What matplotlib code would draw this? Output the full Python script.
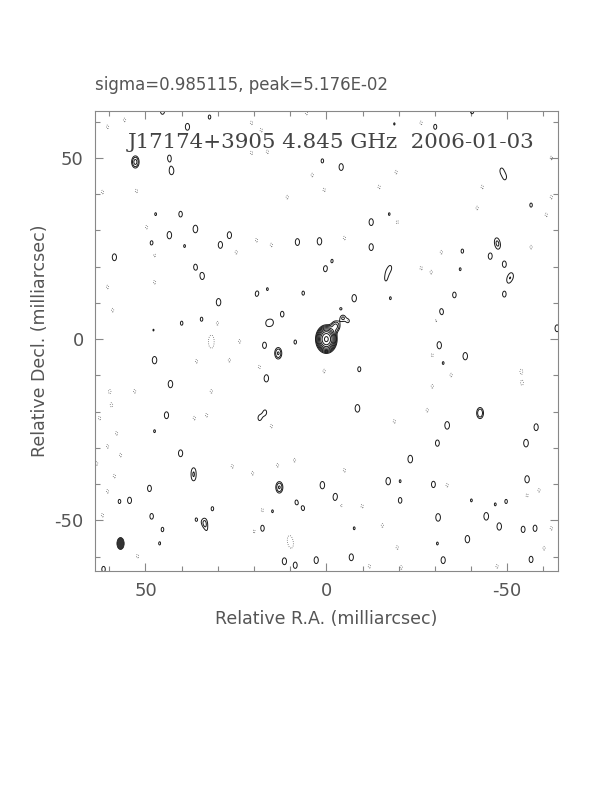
import numpy as np
import matplotlib
matplotlib.use("Agg")
import matplotlib.pyplot as plt
from matplotlib.patches import Ellipse

# map header
source = "J17174+3905"
freq = "4.845 GHz"
obs_date = "2006-01-03"
sigma = 0.985115
peak = 5.176e-02

# core + jet components (mas, in units of lowest contour)
core_x = [0.0, -2.6, -4.6, -4.0, -6.0]
core_y = [0.0, 3.6, 5.8, 8.4, 5.0]
core_amp = [17.5, 2.2, 1.5, 1.2, 1.15]
core_sx = [1.25, 0.9, 0.8, 0.5, 0.5]
core_sy = [1.65, 1.1, 0.9, 0.5, 0.6]

# positive noise blobs
pos_x = [45.3, 32.3, 38.4, 52.8, 43.4, 42.8, 1.1, 40.3, 47.2, 36.2, 43.4, 26.8,
         48.3, 39.2, 29.3, 8.0, 1.9, 58.6, 36.2, 34.3, 0.3, 19.1, 16.3, 6.4,
         29.8, 12.2, 16.4, 15.0, 40.0, 34.5, 47.8,
         -40.3, -30.1, -18.8, -4.1, -48.4, -49.4, -56.6, -12.4, -17.4, -12.4, -47.0,
         -47.6, -45.3, -37.6, -49.2, -37.0, -17.8, -16.8, -51.3, -50.3, -49.2, -35.4,
         -7.7, -17.7, -31.8, -63.8, -1.6, -16.4,
         47.5, 17.1, 13.3, 8.6, 43.1, 16.6, 44.2, 16.9, 18.5, 47.5, 40.3, 36.7,
         36.7, 13.0, 1.1, 48.9, 54.4, 57.2, 48.3, 8.3, 6.4, 14.9, 33.7, 31.5,
         36.0, 17.7, 45.3, 46.1, 11.6, 8.6, 2.8, 61.6, 33.3,
         -31.2, -38.4, -32.3, -9.1, -8.6, -42.5, -33.4, -58.0, -55.2, -30.7, -23.2,
         -17.1, -20.4, -29.6, -55.5, -2.5, -20.4, -40.1, -49.7, -46.7, -44.2,
         -30.9, -47.8, -54.4, -57.7, -7.7, -39.0, -30.7, -6.9, -32.3, -56.6]
pos_y = [63.0, 61.3, 58.6, 48.9, 50.0, 46.4, 49.2, 34.5, 34.5, 30.4, 28.7, 28.7,
         26.5, 25.7, 26.0, 26.8, 27.0, 22.6, 19.9, 17.4, 19.4, 12.4, 13.8, 12.7,
         10.2, 6.9, 4.4, 4.6, 4.4, 5.5, 2.5,
         63.0, 58.6, 59.4, 47.5, 46.6, 44.6, 37.0, 32.3, 34.5, 25.4, 27.2,
         25.6, 22.9, 24.3, 20.7, 19.3, 19.9, 18.4, 17.6, 16.2, 12.4, 12.2,
         11.3, 11.3, 7.5, 3.0, 21.6, 16.2,
         -5.8, -1.7, -3.9, -0.8, -12.4, -10.8, -21.0, -20.2, -21.8, -25.4, -31.5, -36.2,
         -38.4, -40.9, -40.3, -41.2, -44.5, -44.8, -48.9, -45.0, -46.7, -47.5, -50.6, -46.8,
         -49.8, -52.2, -52.5, -56.4, -61.3, -62.4, -61.0, -63.5, -53.0,
         -1.7, -4.7, -6.6, -8.3, -19.1, -20.4, -23.8, -24.3, -28.7, -28.7, -33.1,
         -39.2, -39.2, -40.1, -38.7, -43.6, -44.5, -44.5, -44.8, -45.6, -48.9,
         -49.2, -51.7, -52.5, -52.2, -52.2, -55.2, -56.4, -60.2, -61.0, -60.8]
pos_amp = [1.3, 1.1, 1.3, 2.3, 1.2, 1.35, 1.1, 1.2, 1.05, 1.38, 1.35, 1.3,
           1.15, 1.05, 1.3, 1.3, 1.35, 1.3, 1.2, 1.3, 1.2, 1.3, 1.05, 1.1,
           1.35, 1.2, 1.0, 1.0, 1.1, 1.1, 1.02,
           1.2, 1.15, 1.03, 1.3, 1.05, 1.05, 1.1, 1.3, 1.05, 1.3, 1.0,
           1.0, 1.25, 1.1, 1.25, 1.05, 0.9, 0.85, 1.0, 1.0, 1.2, 1.2,
           1.35, 1.05, 1.3, 1.3, 1.05, 0.85,
           1.35, 1.25, 2.1, 1.1, 1.35, 1.35, 1.3, 1.1, 1.1, 1.05, 1.3, 1.05,
           1.05, 2.1, 1.35, 1.25, 1.25, 1.1, 1.2, 1.1, 1.1, 1.05, 1.45, 1.1,
           1.05, 1.25, 1.1, 1.05, 1.3, 1.25, 1.3, 1.2, 1.0,
           1.35, 1.35, 1.05, 1.15, 1.38, 2.0, 1.38, 1.3, 1.38, 1.25, 1.38,
           1.35, 1.05, 1.25, 1.35, 1.38, 1.2, 1.05, 1.1, 1.05, 1.38,
           1.38, 1.35, 1.25, 1.25, 1.05, 1.35, 1.05, 1.3, 1.3, 1.25]

# negative blobs (dotted contours)
neg_x = [55.8, 60.5, 61.9, 52.5, 20.7, 18.0, 20.7, 16.3, 3.9, 0.6, 10.8, 19.3,
         15.2, 24.9, 47.5, 49.7, 60.5, 59.1, 47.5, 18.0, 30.1, 31.8, 5.5,
         -62.2, -62.2, -60.8, -43.1, -41.7, -19.6, -14.6, -5.0, -31.8, -26.2, -29.0,
         -56.6, -30.4, -19.3, -26.2,
         59.4, 59.9, 60.5, 56.9, 58.6, 60.5, 58.0, 61.9, 52.2, 53.0, 35.9, 31.8,
         26.8, 24.0, 36.5, 33.1, 15.2, 26.0, 20.4, 13.5, 8.8, 17.7, 19.9, 34.3,
         10.2, 9.7, 0.6, 18.5, 31.8, 62.7, 63.5,
         -53.9, -54.1, -29.3, -27.9, -18.8, -34.5, -29.3, -5.0, -33.4, -9.9, -4.1,
         -55.5, -58.8, -15.5, -62.2, -19.6, -60.2, -47.2, -20.7, -11.9]
neg_y = [60.5, 58.6, 40.6, 40.9, 59.7, 57.7, 51.4, 51.7, 45.3, 41.2, 39.2, 27.3,
         26.0, 24.0, 23.2, 30.9, 14.4, 8.0, 15.7, 10.2, 4.4, 0.3, 62.4,
         50.0, 39.2, 34.3, 42.0, 36.2, 32.3, 42.0, 27.9, 24.0, 19.6, 18.5,
         25.4, 5.2, 46.1, 59.7,
         -18.2, -14.4, -29.6, -32.0, -37.8, -42.0, -26.0, -48.6, -59.9, -14.4, -6.1, -14.4,
         -5.8, -0.6, -21.8, -21.0, -24.0, -35.1, -37.0, -34.8, -33.4, -47.2, -53.0, -54.1,
         -55.0, -56.9, -8.8, -7.7, -1.7, -21.8, -34.3,
         -8.8, -12.2, -13.0, -19.6, -22.7, -9.9, -4.4, -36.2, -40.3, -46.1, -45.9,
         -43.1, -41.7, -51.4, -52.2, -57.5, -57.7, -62.7, -63.0, -62.7]

levels = [-1, 1, 1.41, 2, 2.83, 4, 5.66, 8, 11.3, 16]

# build the clean map from the listed components
grid = np.arange(-66, 66.01, 0.15)
X, Y = np.meshgrid(grid, grid)
img = np.zeros_like(X)
for x0, y0, a, sx, sy in zip(core_x, core_y, core_amp, core_sx, core_sy):
    img += a * np.exp(-0.5 * (((X - x0) / sx) ** 2 + ((Y - y0) / sy) ** 2))
for x0, y0, a in zip(pos_x, pos_y, pos_amp):
    img += a * np.exp(-0.5 * (((X - x0) / 0.8) ** 2 + ((Y - y0) / 1.3) ** 2))
for x0, y0 in zip(neg_x, neg_y):
    img -= 1.08 * np.exp(-0.5 * (((X - x0) / 0.8) ** 2 + ((Y - y0) / 1.3) ** 2))

fig = plt.figure(figsize=(6.12, 7.92), dpi=100)
ax = fig.add_axes([0.155, 0.279, 0.7565, 0.581])

ax.contour(X, Y, img, levels=[l for l in levels if l > 0], colors="#1a1a1a",
           linewidths=0.7, linestyles="solid")
ax.contour(X, Y, img, levels=[-1], colors="#666666", linewidths=0.6,
           linestyles="dotted")

ax.add_patch(Ellipse((56.9, -56.4), 2.0, 3.3, facecolor="#333333",
                     edgecolor="#222222", lw=0.6))

ax.set_xlim(64, -64)
ax.set_ylim(-64, 63)
ax.set_aspect("auto")

gray = "#555555"
ax.set_xticks([50, 0, -50])
ax.set_yticks([-50, 0, 50])
ax.set_xticks(np.arange(-60, 61, 10), minor=True)
ax.set_yticks(np.arange(-60, 61, 10), minor=True)
ax.tick_params(which="both", direction="in", top=True, right=True, color="#888888",
               labelcolor=gray, labelsize=13)
ax.tick_params(which="major", length=6, width=0.8, pad=8)
ax.tick_params(which="minor", length=3.5, width=0.8)
ax.set_xticklabels(["50", "0", "-50"])
ax.set_yticklabels(["-50", "0", "50"])
for s in ax.spines.values():
    s.set_color("#888888")
    s.set_linewidth(0.8)

ax.set_xlabel("Relative R.A. (milliarcsec)", fontsize=12.5, color=gray, labelpad=7)
ax.set_ylabel("Relative Decl. (milliarcsec)", fontsize=12.5, color=gray, labelpad=4)
ax.set_title("sigma=%.6f, peak=%.3E" % (sigma, peak), loc="left", fontsize=12,
             color=gray, pad=15)
ax.text(55, 54.4, "%s %s  %s" % (source, freq, obs_date), family="DejaVu Serif",
        fontsize=15.4, color="#444444", va="center", ha="left")

fig.savefig("out.png", dpi=100)
